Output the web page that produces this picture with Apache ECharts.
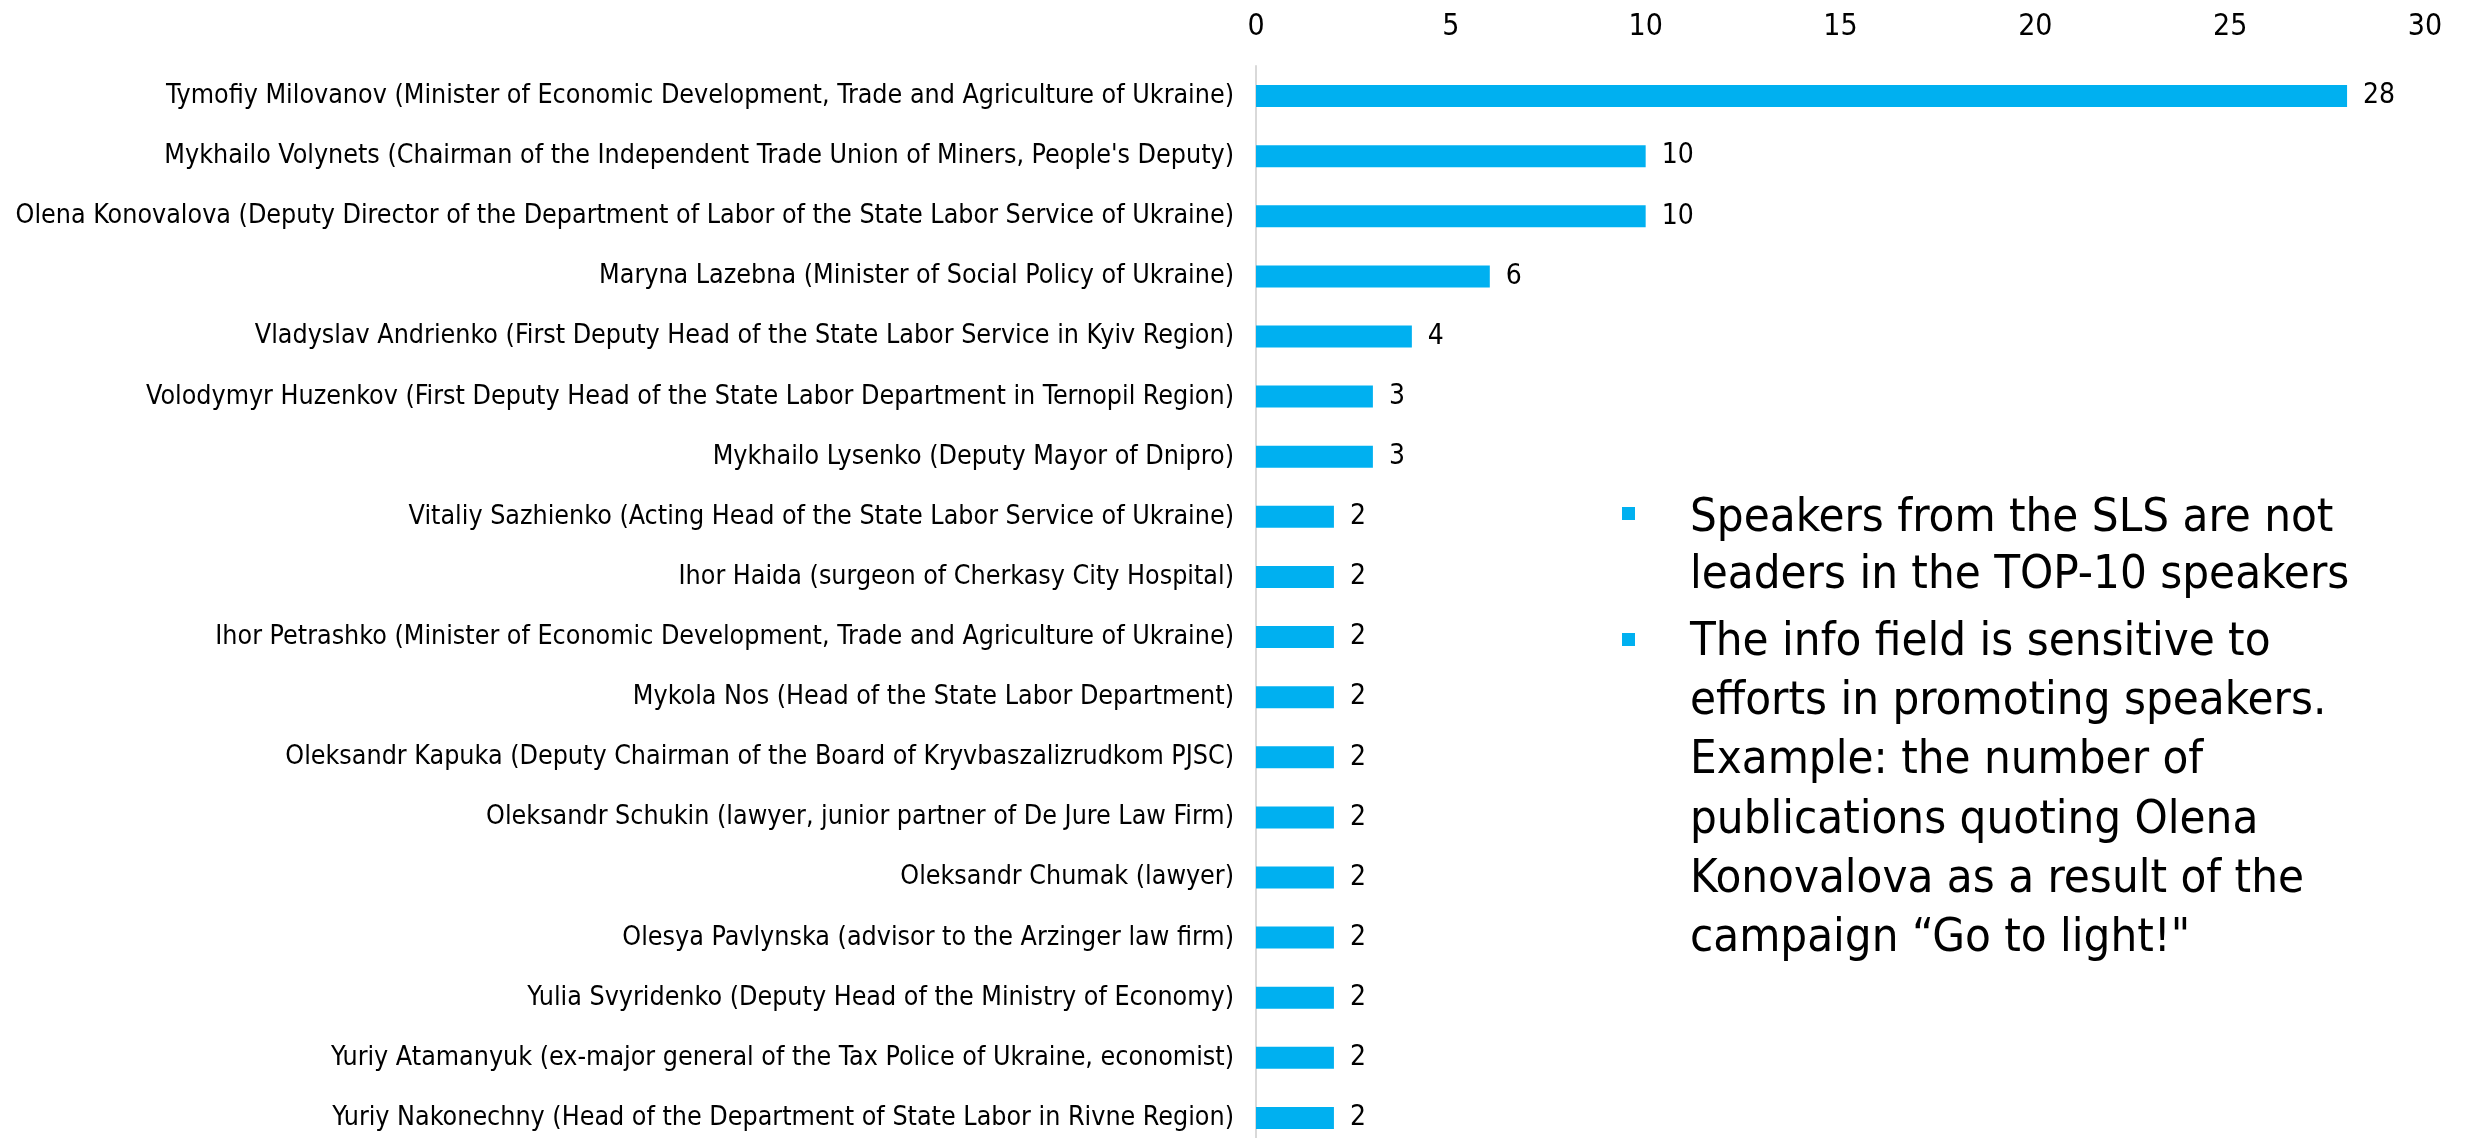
<!DOCTYPE html>
<html>
<head>
<meta charset="utf-8">
<script src="https://cdn.jsdelivr.net/npm/echarts@6/dist/echarts.min.js"></script>
<style>
html,body{margin:0;padding:0;background:#fff;}
#chart{width:2476px;height:1138px;}
</style>
</head>
<body>
<div id="chart"></div>
<script>
const categories = [
  "Tymofiy Milovanov (Minister of Economic Development, Trade and Agriculture of Ukraine)",
  "Mykhailo Volynets (Chairman of the Independent Trade Union of Miners, People's Deputy)",
  "Olena Konovalova (Deputy Director of the Department of Labor of the State Labor Service of Ukraine)",
  "Maryna Lazebna (Minister of Social Policy of Ukraine)",
  "Vladyslav Andrienko (First Deputy Head of the State Labor Service in Kyiv Region)",
  "Volodymyr Huzenkov (First Deputy Head of the State Labor Department in Ternopil Region)",
  "Mykhailo Lysenko (Deputy Mayor of Dnipro)",
  "Vitaliy Sazhienko (Acting Head of the State Labor Service of Ukraine)",
  "Ihor Haida (surgeon of Cherkasy City Hospital)",
  "Ihor Petrashko (Minister of Economic Development, Trade and Agriculture of Ukraine)",
  "Mykola Nos (Head of the State Labor Department)",
  "Oleksandr Kapuka (Deputy Chairman of the Board of Kryvbaszalizrudkom PJSC)",
  "Oleksandr Schukin (lawyer, junior partner of De Jure Law Firm)",
  "Oleksandr Chumak (lawyer)",
  "Olesya Pavlynska (advisor to the Arzinger law firm)",
  "Yulia Svyridenko (Deputy Head of the Ministry of Economy)",
  "Yuriy Atamanyuk (ex-major general of the Tax Police of Ukraine, economist)",
  "Yuriy Nakonechny (Head of the Department of State Labor in Rivne Region)"
];
const values = [28, 10, 10, 6, 4, 3, 3, 2, 2, 2, 2, 2, 2, 2, 2, 2, 2, 2];
const tickMin = 0, tickMax = 30, tickStep = 5;
const bullet1 = ["Speakers from the SLS are not", "leaders in the TOP-10 speakers"];
const bullet2 = ["The info field is sensitive to", "efforts in promoting speakers.", "Example: the number of", "publications quoting Olena", "Konovalova as a result of the", "campaign \u201cGo to light!\""];

const FONT = "'DejaVu Sans Condensed', 'DejaVu Sans', sans-serif";
const chart = echarts.init(document.getElementById('chart'), null, {renderer: 'canvas'});
chart.setOption({
  backgroundColor: '#ffffff',
  animation: false,
  grid: {left: 1256, right: 51, top: 66, height: 1082, containLabel: false, outerBoundsMode: 'none'},
  xAxis: {
    type: 'value', position: 'top', min: tickMin, max: tickMax, interval: tickStep,
    axisLine: {show: false}, axisTick: {show: false}, splitLine: {show: false},
    axisLabel: {fontSize: 30, color: '#000', fontFamily: FONT, margin: 24}
  },
  yAxis: {
    type: 'category', inverse: true, data: categories,
    axisLine: {show: true, lineStyle: {color: '#d9d9d9', width: 2}},
    axisTick: {show: false},
    axisLabel: {fontSize: 26.6, color: '#000', fontFamily: FONT, margin: 22}
  },
  series: [{
    type: 'bar', data: values, barWidth: 22,
    itemStyle: {color: '#00B0F0'},
    label: {show: true, position: 'right', distance: 16, fontSize: 28, color: '#000', fontFamily: FONT}
  }],
  graphic: [
    {type: 'rect', shape: {x: 1622, y: 507, width: 13, height: 13}, style: {fill: '#00B0F0'}},
    {type: 'rect', shape: {x: 1622, y: 633, width: 13, height: 13}, style: {fill: '#00B0F0'}},
    {type: 'text', x: 1690, y: 490, style: {text: bullet1.join('\n'), fontSize: 47, lineHeight: 57, fontFamily: FONT, fill: '#000', verticalAlign: 'top'}},
    {type: 'text', x: 1690, y: 613, style: {text: bullet2.join('\n'), fontSize: 47, lineHeight: 59.3, fontFamily: FONT, fill: '#000', verticalAlign: 'top'}}
  ]
});
</script>
</body>
</html>
